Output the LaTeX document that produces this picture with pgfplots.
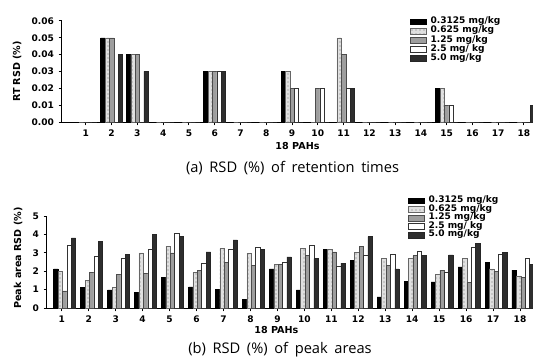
\documentclass[border=0pt]{standalone}
\usepackage{pgfplots}
\pgfplotsset{compat=1.18}
\usepackage{pgfplotstable}
\usetikzlibrary{patterns}
\usepackage{fontspec}
\setmainfont{DejaVu Sans}
\newfontfamily\capfont{Open Sans}
\newcommand{\tickfont}{\fontsize{6.8}{7}\selectfont\bfseries}
\newcommand{\legfont}{\fontsize{6.8}{7}\selectfont\bfseries}
\newcommand{\labfont}{\fontsize{7.2}{8}\selectfont\bfseries}

\pgfplotstableread{
x a b c d e
1 0 0 0 0 0
2 0.05 0.05 0.05 0 0.04
3 0.04 0.04 0.04 0 0.03
4 0 0 0 0 0
5 0 0 0 0 0
6 0.03 0.03 0.03 0.03 0.03
7 0 0 0 0 0
8 0 0 0 0 0
9 0.03 0.03 0.02 0.02 0
10 0 0 0.02 0.02 0
11 0 0.05 0.04 0.02 0.02
12 0 0 0 0 0
13 0 0 0 0 0
14 0 0 0 0 0
15 0.02 0.02 0.01 0.01 0
16 0 0 0 0 0
17 0 0 0 0 0
18 0 0 0 0 0.01
}\rttable

\pgfplotstableread{
x a b c d e
1 2.12 1.99 0.93 3.41 3.81
2 1.13 1.49 1.92 2.82 3.64
3 0.99 1.11 1.81 2.71 2.93
4 0.84 3.00 1.89 3.21 3.99
5 1.67 3.36 3.00 4.04 3.88
6 1.15 1.94 2.05 2.41 3.05
7 1.00 3.25 2.48 3.21 3.70
8 0.45 2.98 2.32 3.29 3.20
9 2.12 2.35 2.35 2.50 2.78
10 0.99 3.25 2.87 3.43 2.69
11 3.18 3.18 3.05 2.26 2.44
12 2.57 3.03 3.36 2.84 3.88
13 0.61 2.71 2.33 2.93 2.12
14 1.45 2.69 2.84 3.11 2.84
15 1.42 1.81 2.06 1.96 2.89
16 2.23 2.71 1.38 3.30 3.52
17 2.48 2.12 2.01 2.93 3.03
18 2.06 1.74 1.67 2.73 2.35
}\patable

\pgfplotsset{
  sA/.style={draw=black, fill=black, line width=0.4pt},
  sB/.style={draw=black!60, fill=black!12, line width=0.4pt, postaction={pattern=dots, pattern color=black!55}},
  sC/.style={draw=black!70, fill=black!38, line width=0.4pt},
  sD/.style={draw=black!80, fill=white, line width=0.4pt},
  sE/.style={draw=black!85, fill=black!82, line width=0.4pt},
  common/.style={
    scale only axis,
    ybar=0pt,
    axis x line*=bottom, axis y line*=left,
    axis line style={line width=0.75pt,-},
    tick align=outside, major tick length=2.5pt,
    tick style={line width=0.75pt, black},
    every tick label/.append style={font=\tickfont},
    /pgf/number format/assume math mode=true,
    legend cell align=left,
    legend image code/.code={\draw[##1] (0pt,-2.2pt) rectangle (12pt,2.2pt);},
    clip=true,
  },
}

\begin{document}
\begin{tikzpicture}[x=1pt,y=1pt]
\path[use as bounding box] (0,0) rectangle (399.75,268.5);

% ---- top chart ----
\begin{axis}[common,
  at={(46.5pt,177pt)}, anchor=south west,
  width=353.25pt, height=75.75pt,
  xmin=0.075, xmax=18.35, ymin=0, ymax=0.06,
  bar width=3.3pt,
  xtick={1,2,3,4,5,6,7,8,9,10,11,12,13,14,15,16,17,18},
  ytick={0,0.01,0.02,0.03,0.04,0.05,0.06},
  scaled y ticks=false,
  yticklabel style={/pgf/number format/fixed, /pgf/number format/fixed zerofill, /pgf/number format/precision=2},
  xlabel={18 PAHs}, ylabel={RT RSD (\%)},
  xlabel style={at={(axis description cs:0.5,-0.238)}, anchor=center, font=\labfont, inner sep=0pt},
  ylabel style={at={(axis description cs:-0.0955,0.5)}, anchor=center, font=\labfont, inner sep=0pt},
  legend style={at={(axis description cs:0.7389,1.0386)}, anchor=north west, draw=none, fill=none,
    inner sep=0pt, outer sep=0pt, font=\legfont, column sep=3pt, row sep=0pt,
    nodes={inner sep=0pt, text height=4.9pt, text depth=2pt}},
]
\addplot[sA] table[x=x,y=a]{\rttable};
\addplot[sB] table[x=x,y=b]{\rttable};
\addplot[sC] table[x=x,y=c]{\rttable};
\addplot[sD] table[x=x,y=d]{\rttable};
\addplot[sE] table[x=x,y=e]{\rttable};
\legend{0.3125 mg/kg, 0.625 mg/kg, 1.25 mg/kg, 2.5 mg/ kg, 5.0 mg/kg}
\end{axis}

% ---- bottom chart ----
\begin{axis}[common,
  at={(35.25pt,37.5pt)}, anchor=south west,
  width=364.5pt, height=69pt,
  xmin=0.343, xmax=18.371, ymin=0, ymax=5,
  bar width=3.3pt,
  xtick={0.89,1.89,2.89,3.89,4.89,5.89,6.89,7.89,8.89,9.89,10.89,11.89,12.89,13.89,14.89,15.89,16.89,17.89},
  xticklabels={1,2,3,4,5,6,7,8,9,10,11,12,13,14,15,16,17,18},
  ytick={0,1,2,3,4,5},
  xlabel={18 PAHs}, ylabel={Peak area RSD (\%)},
  xlabel style={at={(axis description cs:0.472,-0.239)}, anchor=center, font=\labfont, inner sep=0pt},
  ylabel style={at={(axis description cs:-0.0597,0.543)}, anchor=center, font=\labfont, inner sep=0pt},
  legend style={at={(axis description cs:0.7428,1.213)}, anchor=north west, draw=none, fill=none,
    inner sep=0pt, outer sep=0pt, font=\legfont, column sep=3pt, row sep=0pt,
    nodes={inner sep=0pt, text height=4.6pt, text depth=1.85pt}},
]
\addplot[sA] table[x=x,y=a]{\patable};
\addplot[sB] table[x=x,y=b]{\patable};
\addplot[sC] table[x=x,y=c]{\patable};
\addplot[sD] table[x=x,y=d]{\patable};
\addplot[sE] table[x=x,y=e]{\patable};
\legend{0.3125 mg/kg, 0.625 mg/kg, 1.25 mg/kg, 2.5 mg/ kg, 5.0 mg/kg}
\end{axis}

% ---- captions ----
\node[font=\capfont\fontsize{11}{12}\selectfont, inner sep=0pt, anchor=center] at (219.4,142.5)
  {(a)\hspace{0.45em}RSD\hspace{0.45em}(\%)\hspace{0.45em}of\hspace{0.45em}retention\hspace{0.45em}times};
\node[font=\capfont\fontsize{11}{12}\selectfont, inner sep=0pt, anchor=center] at (210,6.5)
  {(b)\hspace{0.45em}RSD\hspace{0.45em}(\%)\hspace{0.45em}of\hspace{0.45em}peak\hspace{0.45em}areas};
\end{tikzpicture}
\end{document}
